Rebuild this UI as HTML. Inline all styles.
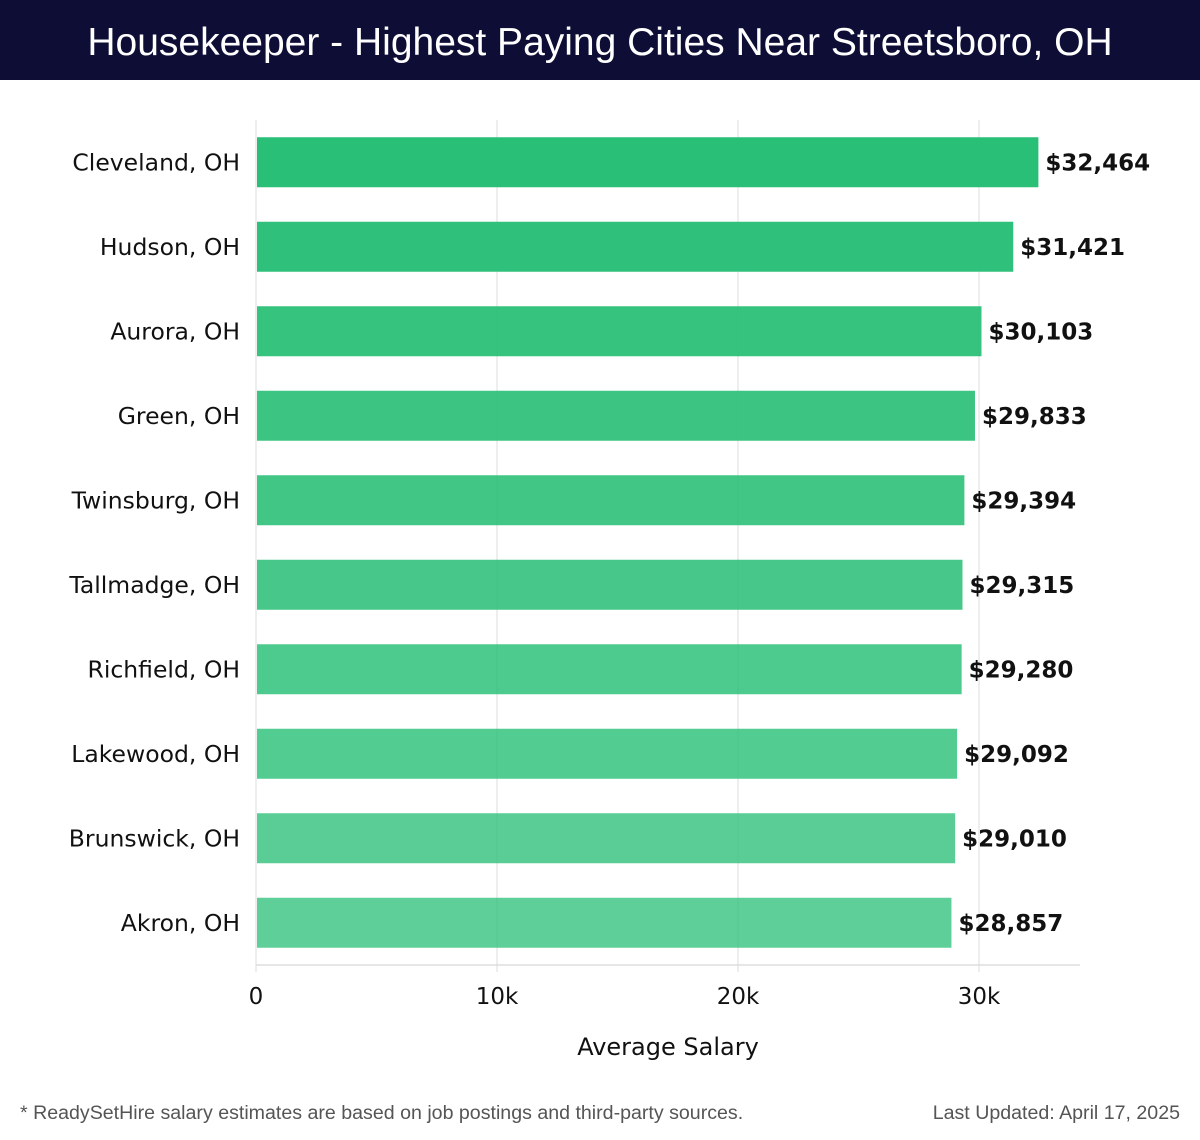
<!DOCTYPE html>
<html><head><meta charset="utf-8"><style>
body{margin:0;width:1200px;height:1140px;background:#fff;font-family:"Liberation Sans","DejaVu Sans",sans-serif;overflow:hidden}
#title{position:absolute;left:0;top:0;width:1200px;height:80px;background:#0d0d35;color:#fff;font-size:39px;line-height:86px;text-align:center;font-weight:300}
</style></head><body>
<div id="title">Housekeeper - Highest Paying Cities Near Streetsboro, OH</div>
<svg id="chart" width="1200" height="1140" style="position:absolute;left:0;top:0"></svg>
<script>
const categories=["Cleveland, OH","Hudson, OH","Aurora, OH","Green, OH","Twinsburg, OH","Tallmadge, OH","Richfield, OH","Lakewood, OH","Brunswick, OH","Akron, OH"];
const salaries=[32464,31421,30103,29833,29394,29315,29280,29092,29010,28857];
const valueLabels=["$32,464","$31,421","$30,103","$29,833","$29,394","$29,315","$29,280","$29,092","$29,010","$28,857"];
const ticks=[0,10000,20000,30000];
const tickLabels=["0","10k","20k","30k"];
const NS="http://www.w3.org/2000/svg";
const svg=document.getElementById('chart');
const x0=256,pxPer=24.1/1000,top0=120,band=84.5,barH=50;
const xs=v=>x0+v*pxPer;
const DJ='"DejaVu Sans",sans-serif';
function mk(t,a,txt){const e=document.createElementNS(NS,t);for(const k in a)e.setAttribute(k,a[k]);if(txt!==undefined)e.textContent=txt;svg.appendChild(e);return e;}
ticks.forEach((t,i)=>{
 const g=mk('line',{x1:xs(t),x2:xs(t),y1:top0,y2:972,stroke:'#e2e2e2','stroke-width':1.2});
 
 
 const l=mk('text',{x:xs(t),y:1004,'text-anchor':'middle','font-size':23,'font-family':DJ,fill:'#111'},tickLabels[i]);
 
 
});
const ax=mk('line',{x1:x0,x2:1080,y1:965,y2:965,stroke:'#d8d8d8','stroke-width':1.2});


categories.forEach((c,i)=>{
 const y=top0+i*band+(band-barH)/2;
 const r=mk('rect',{x:x0+1,y:y,width:xs(salaries[i])-x0-1,height:barH,fill:'#29bf77','fill-opacity':1-i*0.028});
 
 
 const l=mk('text',{x:240,y:y+barH/2+8,'text-anchor':'end','font-size':23.5,'font-family':DJ,fill:'#111'},c);
 
 
 const v=mk('text',{x:xs(salaries[i])+7,y:y+barH/2+8,'font-size':23,'font-weight':'bold','font-family':DJ,fill:'#111'},valueLabels[i]);
 
 
});
const xt=mk('text',{x:668,y:1055,'text-anchor':'middle','font-size':24,'font-family':DJ,fill:'#111'},'Average Salary');


const f1=mk('text',{x:20,y:1119,'font-size':19.6,fill:'#555'},'* ReadySetHire salary estimates are based on job postings and third-party sources.');


const f2=mk('text',{x:1180,y:1119,'text-anchor':'end','font-size':19.6,fill:'#555'},'Last Updated: April 17, 2025');


</script>
</body></html>
